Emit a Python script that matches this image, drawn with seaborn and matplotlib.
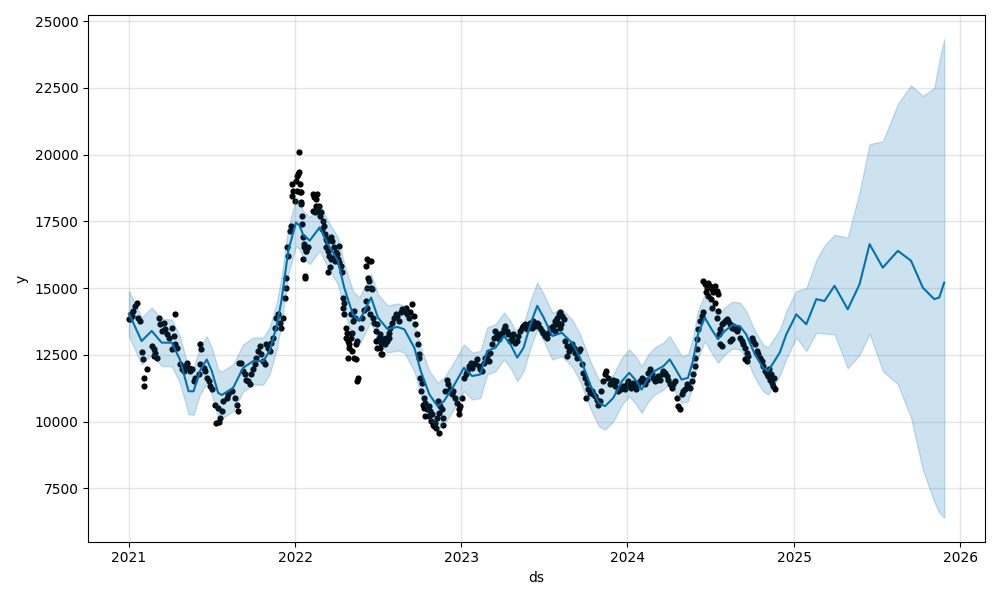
import numpy as np
import pandas as pd
import matplotlib
matplotlib.use("Agg")
import matplotlib.pyplot as plt
import matplotlib.dates as mdates
import seaborn as sns

# ---- fitted / forecast line (yhat) and its uncertainty band ----
fc_ds = [
    "2021-01-01", "2021-01-29", "2021-02-20", "2021-03-14", "2021-04-05", "2021-04-23",
    "2021-05-12", "2021-05-23", "2021-06-06", "2021-06-21", "2021-07-02", "2021-07-16",
    "2021-07-24", "2021-08-18", "2021-09-09", "2021-10-01", "2021-10-23", "2021-11-06",
    "2021-11-21", "2021-12-02", "2021-12-17",
    "2022-01-03", "2022-01-11", "2022-01-18", "2022-02-02", "2022-02-24", "2022-03-14",
    "2022-04-05", "2022-04-19", "2022-05-08", "2022-05-22", "2022-06-17", "2022-07-02",
    "2022-07-23", "2022-08-14", "2022-08-29", "2022-09-20", "2022-10-04", "2022-10-23",
    "2022-11-10", "2022-11-24", "2022-12-13",
    "2023-01-07", "2023-01-25", "2023-02-12", "2023-02-27", "2023-03-17", "2023-04-05",
    "2023-04-19", "2023-05-04", "2023-05-18", "2023-06-02", "2023-06-17", "2023-07-01",
    "2023-07-20", "2023-08-10", "2023-09-01", "2023-09-19", "2023-10-11", "2023-10-30",
    "2023-11-13", "2023-12-01", "2023-12-20",
    "2024-01-05", "2024-01-21", "2024-02-01", "2024-02-16", "2024-03-01", "2024-03-20",
    "2024-04-03", "2024-04-14", "2024-04-29", "2024-05-13", "2024-05-24", "2024-06-04",
    "2024-06-19", "2024-07-04", "2024-07-18", "2024-08-02", "2024-08-19", "2024-09-04",
    "2024-09-18", "2024-10-07", "2024-10-25", "2024-11-05", "2024-11-19", "2024-12-01",
    "2024-12-15",
    "2025-01-06", "2025-01-28", "2025-02-19", "2025-03-09", "2025-03-31", "2025-04-29",
    "2025-05-25", "2025-06-16", "2025-07-15", "2025-08-17", "2025-09-15", "2025-10-11",
    "2025-11-05", "2025-11-16", "2025-11-27",
]
yhat = [
    14050, 13020, 13400, 12960, 12960, 12330,
    11140, 11140, 11900, 12330, 11900, 11080,
    11000, 11270, 12020, 12270, 12270, 12650,
    13550, 14520, 16400,
    17460, 17340, 17030, 16780, 17280, 16650,
    16030, 15020, 14020, 13770, 14650, 13900,
    13470, 13550, 13460, 12770, 11900, 11020,
    10580, 10770, 11270,
    12020, 11710, 11770, 12650, 12770, 13210,
    12900, 12400, 12770, 13650, 14340, 13900,
    13210, 13330, 12960, 12400, 11400, 10710,
    10580, 10890, 11520,
    11830, 11520, 11200, 11640, 11900, 12080,
    12330, 12020, 11580, 11640, 12270, 13270,
    13900, 13460, 13090, 13400, 13620, 13580,
    13270, 12520, 12020, 11900, 12270, 12600,
    13270,
    14020, 13650, 14590, 14520, 15090, 14210,
    15150, 16650, 15770, 16400, 16030, 15020,
    14590, 14650, 15210,
]
yhat_upper = [
    14900, 13900, 14280, 13850, 13830, 13200,
    12000, 12020, 12780, 13200, 12780, 11950,
    11880, 12150, 12900, 13150, 13150, 13530,
    14430, 15400, 17280,
    18340, 18230, 17910, 17660, 18160, 17540,
    16910, 15900, 14900, 14650, 15530, 14780,
    14350, 14430, 14340, 13650, 12780, 11900,
    11460, 11650, 12150,
    12900, 12590, 12650, 13530, 13650, 14090,
    13780, 13280, 13650, 14530, 15220, 14780,
    14090, 14210, 13840, 13280, 12280, 11590,
    11460, 11770, 12400,
    12710, 12400, 12080, 12520, 12780, 12960,
    13210, 12900, 12460, 12520, 13150, 14150,
    14780, 14340, 13970, 14280, 14500, 14460,
    14150, 13400, 12900, 12780, 13150, 13450,
    14150,
    14900, 15000, 16050, 16600, 17000, 16900,
    18600, 20400, 20500, 21900, 22600, 22200,
    22500, 23500, 24330,
]
yhat_lower = [
    13200, 12140, 12520, 12080, 12080, 11450,
    10280, 10260, 11020, 11450, 11020, 10200,
    10120, 10390, 11140, 11390, 11390, 11770,
    12670, 13640, 15520,
    16580, 16460, 16150, 15900, 16400, 15770,
    15150, 14140, 13140, 12890, 13770, 13020,
    12590, 12670, 12580, 11890, 11020, 10140,
    9700, 9890, 10390,
    11140, 10830, 10890, 11770, 11890, 12330,
    12020, 11520, 11890, 12770, 13460, 13020,
    12330, 12450, 12080, 11520, 10520, 9830,
    9700, 10010, 10640,
    10950, 10640, 10320, 10760, 11020, 11200,
    11450, 11140, 10700, 10760, 11390, 12390,
    13020, 12580, 12210, 12520, 12740, 12700,
    12390, 11640, 11140, 11020, 11390, 11750,
    12350,
    13150, 12650, 13330, 13300, 13270, 12000,
    12500, 13300, 11900, 11400, 10150, 8200,
    7000, 6600, 6400,
]

# ---- observed data points ----
obs_ds = [
    # 2021
    "2021-01-01", "2021-01-04", "2021-01-05", "2021-01-07", "2021-01-10", "2021-01-15",
    "2021-01-19", "2021-01-22", "2021-01-26", "2021-01-29", "2021-02-02", "2021-02-03",
    "2021-02-04", "2021-02-09", "2021-02-20", "2021-02-24", "2021-02-25", "2021-02-28",
    "2021-03-03", "2021-03-07", "2021-03-11", "2021-03-14", "2021-03-18", "2021-03-21",
    "2021-03-25", "2021-03-29", "2021-04-05", "2021-04-06", "2021-04-09", "2021-04-12",
    "2021-04-13", "2021-04-16", "2021-04-23", "2021-04-27", "2021-05-01", "2021-05-04",
    "2021-05-08", "2021-05-12", "2021-05-15", "2021-05-19", "2021-05-23", "2021-05-26",
    "2021-06-03", "2021-06-06", "2021-06-07", "2021-06-08", "2021-06-14", "2021-06-17",
    "2021-06-21", "2021-06-25", "2021-06-28", "2021-07-02", "2021-07-09", "2021-07-12",
    "2021-07-16", "2021-07-17", "2021-07-20", "2021-07-24", "2021-07-27", "2021-08-04",
    "2021-08-07", "2021-08-15", "2021-08-22", "2021-08-26", "2021-08-29", "2021-08-30",
    "2021-09-05", "2021-09-09", "2021-09-13", "2021-09-16", "2021-09-20", "2021-09-24",
    "2021-09-27", "2021-10-01", "2021-10-05", "2021-10-08", "2021-10-12", "2021-10-16",
    "2021-10-19", "2021-10-23", "2021-10-27", "2021-10-30", "2021-11-03", "2021-11-06",
    "2021-11-10", "2021-11-14", "2021-11-17", "2021-11-21", "2021-11-25", "2021-11-28",
    "2021-12-02", "2021-12-06", "2021-12-09", "2021-12-11", "2021-12-13", "2021-12-14",
    "2021-12-17", "2021-12-20", "2021-12-24", "2021-12-25", "2021-12-26", "2021-12-28",
    "2021-12-31",
    # 2022
    "2022-01-03", "2022-01-05", "2022-01-06", "2022-01-07", "2022-01-09", "2022-01-10",
    "2022-01-11", "2022-01-12", "2022-01-13", "2022-01-14", "2022-01-15", "2022-01-16",
    "2022-01-17", "2022-01-18", "2022-01-19", "2022-01-20", "2022-01-21", "2022-01-22",
    "2022-01-23", "2022-01-24", "2022-01-26", "2022-01-29",
    "2022-02-09", "2022-02-10", "2022-02-12", "2022-02-13", "2022-02-15", "2022-02-16",
    "2022-02-19", "2022-02-20", "2022-02-23", "2022-02-24", "2022-02-27", "2022-03-02",
    "2022-03-03", "2022-03-06", "2022-03-07", "2022-03-09", "2022-03-10", "2022-03-13",
    "2022-03-14", "2022-03-15", "2022-03-16", "2022-03-17", "2022-03-18", "2022-03-20",
    "2022-03-21", "2022-03-24", "2022-03-25", "2022-03-28", "2022-03-29", "2022-03-31",
    "2022-04-01", "2022-04-04", "2022-04-05", "2022-04-07", "2022-04-08", "2022-04-11",
    "2022-04-15", "2022-04-16", "2022-04-17", "2022-04-18", "2022-04-19", "2022-04-22",
    "2022-04-23", "2022-04-26", "2022-04-27", "2022-04-28", "2022-04-29", "2022-04-30",
    "2022-05-03", "2022-05-04", "2022-05-05", "2022-05-07", "2022-05-08", "2022-05-10",
    "2022-05-11", "2022-05-12", "2022-05-14", "2022-05-15", "2022-05-16", "2022-05-18",
    "2022-05-19", "2022-05-25", "2022-05-29", "2022-06-01",
    "2022-06-05", "2022-06-06", "2022-06-07", "2022-06-08", "2022-06-09", "2022-06-10",
    "2022-06-12", "2022-06-13", "2022-06-14", "2022-06-16", "2022-06-17", "2022-06-20",
    "2022-06-21", "2022-06-23", "2022-06-27", "2022-06-28", "2022-06-30", "2022-07-01",
    "2022-07-04", "2022-07-06", "2022-07-07", "2022-07-08", "2022-07-09", "2022-07-11",
    "2022-07-12", "2022-07-13", "2022-07-14", "2022-07-15", "2022-07-18", "2022-07-19",
    "2022-07-22", "2022-07-23", "2022-07-26", "2022-07-27", "2022-07-29", "2022-08-02",
    "2022-08-06", "2022-08-10", "2022-08-13", "2022-08-17", "2022-08-21", "2022-08-24",
    "2022-08-28", "2022-09-01", "2022-09-04", "2022-09-08", "2022-09-11", "2022-09-15",
    "2022-09-19", "2022-09-22", "2022-09-26", "2022-09-27", "2022-09-30", "2022-10-01",
    "2022-10-03", "2022-10-04", "2022-10-07", "2022-10-08", "2022-10-11", "2022-10-12",
    "2022-10-13", "2022-10-14", "2022-10-18", "2022-10-22", "2022-10-23", "2022-10-25",
    "2022-10-26", "2022-10-29", "2022-10-30", "2022-11-02", "2022-11-05", "2022-11-06",
    "2022-11-09", "2022-11-10", "2022-11-13", "2022-11-14", "2022-11-16", "2022-11-20",
    "2022-11-21", "2022-11-23", "2022-11-27", "2022-12-01", "2022-12-04", "2022-12-08",
    "2022-12-12", "2022-12-15", "2022-12-19", "2022-12-23", "2022-12-26", "2022-12-27",
    "2022-12-30",
    # 2023
    "2023-01-02", "2023-01-07", "2023-01-11", "2023-01-14", "2023-01-18", "2023-01-22",
    "2023-01-25", "2023-01-29", "2023-02-01", "2023-02-04", "2023-02-08", "2023-02-11",
    "2023-02-15", "2023-02-19", "2023-02-22", "2023-02-26", "2023-03-02", "2023-03-05",
    "2023-03-09", "2023-03-13", "2023-03-16", "2023-03-20", "2023-03-24", "2023-03-27",
    "2023-03-31", "2023-04-04", "2023-04-07", "2023-04-11", "2023-04-14", "2023-04-18",
    "2023-04-22", "2023-04-25", "2023-04-29", "2023-05-03", "2023-05-06", "2023-05-10",
    "2023-05-14", "2023-05-17", "2023-05-21", "2023-05-25", "2023-05-28", "2023-06-01",
    "2023-06-05", "2023-06-08", "2023-06-12", "2023-06-16", "2023-06-19", "2023-06-23",
    "2023-06-27", "2023-06-30", "2023-07-04", "2023-07-08", "2023-07-11", "2023-07-15",
    "2023-07-19", "2023-07-22", "2023-07-26", "2023-07-27", "2023-07-29", "2023-07-30",
    "2023-08-02", "2023-08-03", "2023-08-06", "2023-08-07", "2023-08-09", "2023-08-10",
    "2023-08-14", "2023-08-18", "2023-08-21", "2023-08-22", "2023-08-25", "2023-08-29",
    "2023-09-01", "2023-09-05", "2023-09-08", "2023-09-12", "2023-09-16", "2023-09-19",
    "2023-09-23", "2023-09-26", "2023-09-30", "2023-10-03", "2023-10-04", "2023-10-07",
    "2023-10-11", "2023-10-15", "2023-10-18", "2023-10-22", "2023-10-26", "2023-10-29",
    "2023-11-02", "2023-11-05", "2023-11-09", "2023-11-13", "2023-11-16", "2023-11-20",
    "2023-11-24", "2023-11-27", "2023-12-01", "2023-12-05", "2023-12-08", "2023-12-12",
    "2023-12-16", "2023-12-19", "2023-12-23", "2023-12-27", "2023-12-31",
    # 2024
    "2024-01-03", "2024-01-07", "2024-01-10", "2024-01-14", "2024-01-18", "2024-01-21",
    "2024-01-25", "2024-01-29", "2024-02-01", "2024-02-05", "2024-02-09", "2024-02-12",
    "2024-02-16", "2024-02-19", "2024-02-23", "2024-02-27", "2024-03-01", "2024-03-05",
    "2024-03-09", "2024-03-12", "2024-03-16", "2024-03-20", "2024-03-23", "2024-03-27",
    "2024-03-31", "2024-04-03", "2024-04-07", "2024-04-11", "2024-04-14", "2024-04-18",
    "2024-04-22", "2024-04-25", "2024-04-29", "2024-05-03", "2024-05-06", "2024-05-10",
    "2024-05-14", "2024-05-17", "2024-05-21", "2024-05-25", "2024-05-28", "2024-05-29",
    "2024-06-01", "2024-06-02", "2024-06-04", "2024-06-08", "2024-06-12", "2024-06-15",
    "2024-06-16", "2024-06-19", "2024-06-22", "2024-06-23", "2024-06-26", "2024-06-27",
    "2024-06-30", "2024-07-03", "2024-07-04", "2024-07-05", "2024-07-07", "2024-07-11",
    "2024-07-12", "2024-07-15", "2024-07-16", "2024-07-18", "2024-07-19", "2024-07-20",
    "2024-07-22", "2024-07-23", "2024-07-26", "2024-07-27", "2024-07-29", "2024-08-02",
    "2024-08-06", "2024-08-09", "2024-08-13", "2024-08-14", "2024-08-17", "2024-08-18",
    "2024-08-20", "2024-08-24", "2024-08-28", "2024-08-31", "2024-09-04", "2024-09-08",
    "2024-09-11", "2024-09-15", "2024-09-16", "2024-09-19", "2024-09-20", "2024-09-22",
    "2024-09-30", "2024-10-03", "2024-10-07", "2024-10-11", "2024-10-14", "2024-10-18",
    "2024-10-22", "2024-10-25", "2024-10-29", "2024-11-02", "2024-11-05", "2024-11-08",
    "2024-11-09", "2024-11-12", "2024-11-13", "2024-11-16", "2024-11-19", "2024-11-20",
]
obs_y = [
    # 2021
    13850, 13840, 14040, 13960, 14150, 14340,
    14460, 13900, 13770, 12600, 12350, 11630,
    11330, 11970, 12830, 12720, 12460, 12580,
    12400, 13900, 13650, 13400, 13710, 13460,
    13270, 13150, 13520, 12710, 13210, 14020,
    12900, 12770, 12150, 11960, 11900, 12080,
    12210, 12020, 11900, 11960, 11520, 11640,
    11770, 12150, 12900, 12710, 12020, 11900,
    11640, 11520, 11330, 11210, 10640, 9950,
    10520, 9980, 10140, 10390, 10770, 10890,
    11020, 11140, 10890, 10640, 10390, 12210,
    12210, 11900, 11770, 11580, 11520, 11400,
    11770, 11960, 12150, 12400, 12650, 12830,
    12520, 12270, 12150, 12900, 12770, 12650,
    12960, 13150, 13520, 13900, 14020, 13710,
    13520, 13900, 14650, 15020, 15400, 16530,
    16210, 17150, 17340, 18470, 18910, 18650,
    18280,
    # 2022
    19030, 18650, 19220, 19280, 20090, 19340,
    18590, 18910, 18150, 18590, 18220, 17720,
    17400, 16900, 16090, 16530, 16650, 15460,
    15400, 16400, 16400, 16530,
    18530, 17900, 18400, 17840, 18090, 18340,
    18530, 17900, 18090, 17720, 17840, 17220,
    17530, 17340, 17030, 16530, 16840, 16780,
    16400, 15590, 16840, 16210, 15780, 16900,
    16090, 16780, 16150, 16530, 16030, 16340,
    16210, 16280, 16090, 15970, 16590, 15840,
    15590, 14650, 14270, 14460, 14020, 13520,
    13150, 13330, 13020, 12400, 12900, 12770,
    13150, 14020, 12650, 13330, 13770, 14150,
    12400, 13900, 12330, 12900, 11520, 13020,
    11640, 13520, 13900, 14200,
    15840, 14520, 14270, 15020, 16090, 15400,
    16030, 15270, 14020, 16030, 15020, 14960,
    13900, 13710, 13400, 13020, 12770, 13650,
    13150, 13270, 12770, 12960, 12520, 13020,
    12520, 13090, 12960, 13090, 12900, 13150,
    13020, 13150, 13150, 13330, 13520, 13710,
    13900, 14020, 13960, 13770, 14090, 14210,
    14150, 14270, 14020, 13900, 14090, 14400,
    13960, 13650, 13270, 12900, 12520, 12400,
    11640, 11140, 11460, 10640, 10890, 10520,
    10210, 10710, 10460, 10580, 10210, 10390,
    10020, 10270, 9890, 9830, 9950, 9770,
    10140, 10770, 10330, 9580, 10580, 10460,
    9890, 10140, 11140, 11580, 11400, 11210,
    11020, 11140, 10890, 10710, 10460, 10270,
    10580,
    # 2023
    10890, 11640, 11770, 11900, 12080, 12210,
    12020, 12150, 12210, 12330, 12080, 11960,
    11900, 12210, 12400, 12460, 12270, 12580,
    12900, 13150, 13400, 13270, 13090, 13270,
    13330, 13460, 13580, 13400, 13270, 13020,
    13150, 13270, 12960, 13020, 13210, 13400,
    13520, 13580, 13650, 13460, 13580, 13710,
    13520, 13770, 13580, 13710, 13650, 13520,
    13400, 13330, 13210, 13150, 13330, 13520,
    13460, 13580, 13400, 13770, 13650, 13900,
    13710, 14020, 14090, 13520, 13650, 13960,
    13840, 13020, 12830, 12460, 12650, 12710,
    12900, 12770, 12580, 12400, 12650, 12710,
    12150, 11830, 11640, 10890, 11460, 11210,
    11080, 11140, 11020, 10960, 10830, 10640,
    10770, 11140, 11520, 11770, 11900, 11640,
    11400, 11460, 11580, 11330, 11520, 11140,
    11270, 11210, 11330, 11210, 11400,
    # 2024
    11520, 11330, 11270, 11460, 11330, 11210,
    11400, 11520, 11640, 11520, 11400, 11580,
    11830, 11960, 11770, 11640, 11520, 11580,
    11710, 11580, 11770, 11900, 11830, 11710,
    11580, 11400, 11270, 11400, 11520, 10890,
    10580, 10460, 11020, 11140, 11210, 11400,
    11330, 11270, 11520, 11770, 12080, 12400,
    12710, 13090, 13460, 13770, 13960, 14090,
    15270, 15150, 14840, 15020, 15210, 14710,
    15090, 14590, 14960, 14270, 14840, 15090,
    14460, 14900, 13900, 14780, 14150, 13270,
    13460, 12900, 13650, 12830, 13710, 13770,
    13840, 13770, 13650, 13020, 13520, 13090,
    13580, 13460, 13400, 13520, 13150, 13020,
    12900, 12770, 12330, 12580, 12270, 12460,
    13150, 13020, 12900, 12650, 12520, 12400,
    12270, 12080, 11900, 11770, 11710, 11960,
    11580, 11770, 11460, 11330, 11640, 11210,
]

fc = pd.DataFrame({"ds": pd.to_datetime(fc_ds), "yhat": yhat,
                   "yhat_lower": yhat_lower, "yhat_upper": yhat_upper})
obs = pd.DataFrame({"ds": pd.to_datetime(obs_ds), "y": obs_y})

fig, ax = plt.subplots(figsize=(10, 6), dpi=100)
fig.patch.set_facecolor("white")

# Prophet-style draw order: points, then forecast line, then translucent band
sns.scatterplot(data=obs, x="ds", y="y", ax=ax, color="black", s=20,
                linewidth=0, marker="o", zorder=1)
sns.lineplot(data=fc, x="ds", y="yhat", ax=ax, color="#0072B2", lw=1.5,
             estimator=None, zorder=2)
ax.fill_between(fc["ds"].values, fc["yhat_lower"], fc["yhat_upper"],
                color="#0072B2", alpha=0.2, zorder=3)

ax.grid(True, which="major", c="gray", ls="-", lw=1, alpha=0.2)
ax.xaxis.set_major_locator(mdates.YearLocator())
ax.xaxis.set_major_formatter(mdates.DateFormatter("%Y"))
ax.set_xlabel("ds")
ax.set_ylabel("y")
ax.margins(x=0.05, y=0.05)
fig.tight_layout()
fig.savefig("out.png", dpi=100)
